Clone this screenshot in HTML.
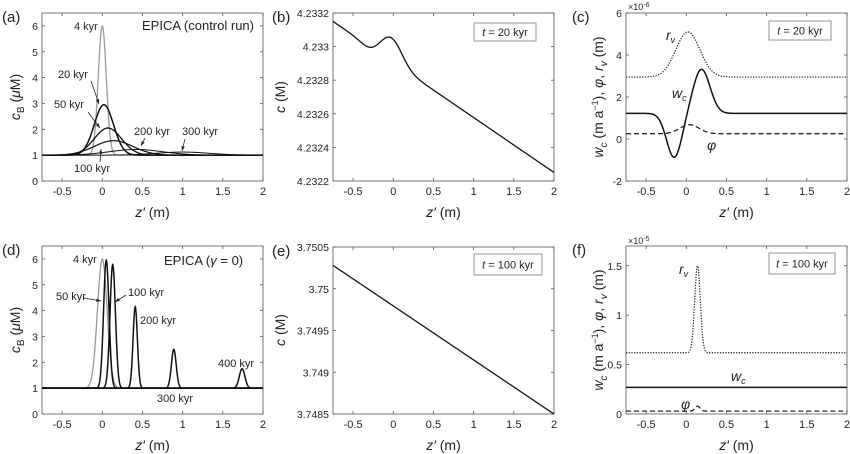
<!DOCTYPE html>
<html><head><meta charset="utf-8"><style>
html,body{margin:0;padding:0;background:#fff;}
svg{display:block;font-family:"Liberation Sans",sans-serif;}
</style></head><body>
<svg id="s" width="850" height="454" xmlns="http://www.w3.org/2000/svg"></svg>
<script>
const S=document.getElementById('s');let out='';
function g(x,m,s){return Math.exp(-(x-m)*(x-m)/(2*s*s));}
function panel(L,T,W,H,ymin,ymax,yt,ylabs,fn){
 const X=x=>L+(x+0.75)/2.75*W, Y=y=>T+H-(y-ymin)/(ymax-ymin)*H;
 out+=`<rect x="${L}" y="${T}" width="${W}" height="${H}" fill="none" stroke="#555" stroke-width="0.8"/>`;
 [-0.5,0,0.5,1,1.5,2].forEach(v=>{const x=X(v);
  out+=`<line x1="${x}" y1="${T+H}" x2="${x}" y2="${T+H-3}" stroke="#555" stroke-width="0.8"/><line x1="${x}" y1="${T}" x2="${x}" y2="${T+3}" stroke="#555" stroke-width="0.8"/>`;
  out+=`<text x="${x}" y="${T+H+14}" font-size="11" text-anchor="middle" fill="#222">${v}</text>`;});
 yt.forEach((v,i)=>{const y=Y(v);
  out+=`<line x1="${L}" y1="${y}" x2="${L+3}" y2="${y}" stroke="#555" stroke-width="0.8"/><line x1="${L+W}" y1="${y}" x2="${L+W-3}" y2="${y}" stroke="#555" stroke-width="0.8"/>`;
  out+=`<text x="${L-4}" y="${y+4}" font-size="10.5" text-anchor="end" fill="#222">${ylabs[i]}</text>`;});
 out+=`<text x="${L+W/2}" y="${T+H+36}" font-size="14" text-anchor="middle" fill="#222"><tspan font-style="italic">z′</tspan> (m)</text>`;
 return {X,Y};
}
function curve(p,f,col,w,dash){let d='';for(let i=0;i<=1100;i++){const x=-0.75+2.75*i/1100;d+=(i?'L':'M')+p.X(x).toFixed(2)+','+p.Y(f(x)).toFixed(2);}
 out+=`<path d="${d}" fill="none" stroke="${col}" stroke-width="${w}" ${dash?'stroke-dasharray="'+dash+'"':''}/>`;}
function t(x,y,s,sz,extra){out+=`<text x="${x}" y="${y}" font-size="${sz||11}" fill="#222" ${extra||''}>${s}</text>`;}
function arrow(x1,y1,x2,y2){out+=`<line x1="${x1}" y1="${y1}" x2="${x2}" y2="${y2}" stroke="#222" stroke-width="0.8"/>`;
 const a=Math.atan2(y2-y1,x2-x1),l=5;out+=`<path d="M${x2},${y2}L${x2-l*Math.cos(a-0.35)},${y2-l*Math.sin(a-0.35)}L${x2-l*Math.cos(a+0.35)},${y2-l*Math.sin(a+0.35)}Z" fill="#222"/>`;}
function tbox(x,y,w,h,s){out+=`<rect x="${x}" y="${y}" width="${w}" height="${h}" fill="#fff" stroke="#777" stroke-width="0.8"/>`;
 out+=`<text x="${x+w/2}" y="${y+h/2+4}" font-size="11" text-anchor="middle" fill="#222"><tspan font-style="italic">t</tspan> = ${s} kyr</text>`;}
const L1=42,L2=333,L3=626,W=221;
// (a)
let p=panel(L1,13,W,168,0,6.5,[0,1,2,3,4,5,6],['0','1','2','3','4','5','6']);
curve(p,x=>1+5*g(x,0,0.05),'#999',1.3);
curve(p,x=>1+0.12*g(x,1.0,0.33),'#111',1);
curve(p,x=>1+0.22*g(x,0.42,0.33),'#111',1);
curve(p,x=>1+0.56*g(x,0.14,0.24),'#111',1.2);
curve(p,x=>1+1.05*g(x,0.07,0.17),'#111',1.3);
curve(p,x=>1+1.95*g(x,0.02,0.12),'#111',1.5);
t(74,30,'4 kyr',11,'fill="#999"');t(142,30,'EPICA (control run)',13);
t(58,78,'20 kyr');arrow(91,81,99,104);t(54,108,'50 kyr');arrow(88,112,100,128);
t(134,135,'200 kyr');arrow(145,138,141,146);t(182,135,'300 kyr');arrow(185,139,182,151);
t(74,172,'100 kyr');arrow(100,162,101,149);
t(2,22,'(a)',15);
out+=`<text transform="translate(20,97) rotate(-90)" font-size="14" text-anchor="middle" fill="#222"><tspan font-style="italic">c</tspan><tspan font-size="10" dy="4">B</tspan><tspan dy="-4"> (</tspan><tspan font-style="italic">μ</tspan>M)</text>`;
// (b)
p=panel(L2,13,W,168,4.2322,4.2332,[4.2322,4.2324,4.2326,4.2328,4.233,4.2332],['4.2322','4.2324','4.2326','4.2328','4.233','4.2332']);
curve(p,x=>4.23315-0.000327*(x+0.75)+0.00014*g(x,-0.02,0.13)-0.00002*g(x,-0.3,0.1),'#111',1.3);
tbox(474,23,62,18,'20');t(272,22,'(b)',15);
out+=`<text transform="translate(285,97) rotate(-90)" font-size="14" text-anchor="middle" fill="#222"><tspan font-style="italic">c</tspan> (M)</text>`;
// (c)
p=panel(L3,13,W,168,-2,6,[-2,0,2,4,6],['-2','0','2','4','6']);
curve(p,x=>2.95+2.15*g(x,0.02,0.15),'#111',1.2,'1.2,1.5');
curve(p,x=>0.25+0.43*g(x,0.04,0.12),'#111',1.2,'5,3');
curve(p,x=>1.22-2.1*g(x,-0.15,0.095)+2.1*g(x,0.19,0.105),'#111',1.5);
t(628,10,'×10<tspan font-size="7" dy="-3">-6</tspan>',9,'fill="#444"');
tbox(769,21,62,19,'20');t(572,22,'(c)',15);
t(666,40,'r<tspan font-size="9" dy="3">v</tspan>',14,'font-style="italic"');
t(672,98,'w<tspan font-size="9" dy="3">c</tspan>',14,'font-style="italic"');
t(707,150,'φ',14,'font-style="italic" fill="#444"');
out+=`<text transform="translate(603,97) rotate(-90)" font-size="14" text-anchor="middle" fill="#222"><tspan font-style="italic">w</tspan><tspan font-size="10" dy="4" font-style="italic">c</tspan><tspan dy="-4"> (m a</tspan><tspan font-size="9" dy="-5">−1</tspan><tspan dy="5">), </tspan><tspan font-style="italic">φ</tspan>, <tspan font-style="italic">r</tspan><tspan font-size="10" dy="4" font-style="italic">v</tspan><tspan dy="-4"> (m)</tspan></text>`;
// (d)
p=panel(L1,246,W,168,0,6.5,[0,1,2,3,4,5,6],['0','1','2','3','4','5','6']);
curve(p,x=>1+5*g(x,0,0.06),'#999',1.3);
[[4.95,0.05,0.034],[4.78,0.13,0.034],[3.15,0.41,0.027],[1.5,0.89,0.03],[0.75,1.74,0.035]].forEach(a=>curve(p,x=>1+a[0]*g(x,a[1],a[2]),'#111',1.5));
t(73,263,'4 kyr',11,'fill="#999"');t(164,265,'EPICA (<tspan font-style="italic">γ</tspan> = 0)',13);
t(56,300,'50 kyr');arrow(84,298,101,301);t(128,296,'100 kyr');arrow(126,295,115,302);
t(140,324,'200 kyr');t(218,367,'400 kyr');t(157,402,'300 kyr');
t(2,255,'(d)',15);
out+=`<text transform="translate(20,330) rotate(-90)" font-size="14" text-anchor="middle" fill="#222"><tspan font-style="italic">c</tspan><tspan font-size="10" dy="4">B</tspan><tspan dy="-4"> (</tspan><tspan font-style="italic">μ</tspan>M)</text>`;
// (e)
p=panel(L2,247,W,167,3.7485,3.7505,[3.7485,3.749,3.7495,3.75,3.7505],['3.7485','3.749','3.7495','3.75','3.7505']);
curve(p,x=>3.75028-0.00178*(x+0.75)/2.75,'#111',1.3);
tbox(474,254,68,21,'100');t(272,256,'(e)',15);
out+=`<text transform="translate(285,330) rotate(-90)" font-size="14" text-anchor="middle" fill="#222"><tspan font-style="italic">c</tspan> (M)</text>`;
// (f)
p=panel(L3,246,W,168,0,1.7,[0,0.5,1,1.5],['0','0.5','1','1.5']);
curve(p,x=>0.62+0.88*g(x,0.14,0.035),'#111',1.2,'1.2,1.5');
curve(p,x=>0.27,'#111',1.5);
curve(p,x=>0.03+0.05*g(x,0.14,0.03),'#111',1.2,'5,3');
t(628,244,'×10<tspan font-size="7" dy="-3">-5</tspan>',9,'fill="#444"');
tbox(769,253,66,21,'100');t(572,255,'(f)',15);
t(679,274,'r<tspan font-size="9" dy="3">v</tspan>',14,'font-style="italic"');
t(731,381,'w<tspan font-size="9" dy="3">c</tspan>',14,'font-style="italic"');
t(681,409,'φ',14,'font-style="italic" fill="#444"');
out+=`<text transform="translate(603,330) rotate(-90)" font-size="14" text-anchor="middle" fill="#222"><tspan font-style="italic">w</tspan><tspan font-size="10" dy="4" font-style="italic">c</tspan><tspan dy="-4"> (m a</tspan><tspan font-size="9" dy="-5">−1</tspan><tspan dy="5">), </tspan><tspan font-style="italic">φ</tspan>, <tspan font-style="italic">r</tspan><tspan font-size="10" dy="4" font-style="italic">v</tspan><tspan dy="-4"> (m)</tspan></text>`;
S.innerHTML=out;
</script>
</body></html>
